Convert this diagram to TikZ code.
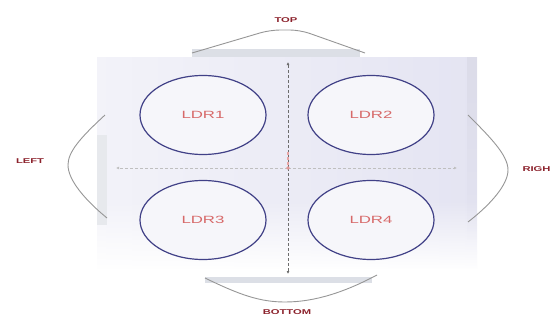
\documentclass[tikz,border=0pt]{standalone}
\usepackage{fontspec}
\usepackage{graphicx}
\setsansfont{Liberation Sans}
\usetikzlibrary{shapes.geometric,arrows.meta,fadings}
\definecolor{lbl}{RGB}{215,105,105}
\definecolor{dlbl}{RGB}{140,35,45}
\definecolor{edge}{RGB}{65,65,135}
\definecolor{bgl}{RGB}{228,228,242}
\definecolor{barg}{RGB}{220,223,230}
\definecolor{brk}{RGB}{150,150,150}
\newcommand{\widetext}[1]{\scalebox{1.6}[1]{#1}}
\tikzset{
  ldr/.style={ellipse,draw=edge,line width=1.2pt,fill=bgl!35!white,minimum width=126pt,minimum height=79pt,
    inner sep=0pt,text=lbl,font=\sffamily\fontsize{10.5}{13}\selectfont},
  dirlbl/.style={text=dlbl,font=\sffamily\bfseries\fontsize{7}{9}\selectfont},
  brack/.style={draw=brk,line width=0.9pt},
  axis/.style={densely dashed,line width=0.6pt,-{Latex[length=3pt,width=3pt]}},
}
\begin{document}
\begin{tikzpicture}[x=1pt,y=-1pt]
\useasboundingbox (0,0) rectangle (558,324);
% background panel
\shade[left color=bgl!45!white,right color=bgl] (97,57) rectangle (477,268);
\fill[white,path fading=north] (96,200) rectangle (478,270);
\fill[barg!70!white] (97,135) rectangle (107,225);
\fill[bgl!92!gray,path fading=south] (467,57) rectangle (477,240);
% bars
\fill[barg] (192,49) rectangle (360,57);
\fill[barg] (205,277) rectangle (372,283);
% brackets
\draw[brack,rounded corners=10pt] (192,53) -- (270,30) -- (300,30) -- (365,53);
\draw[brack] (205,278) .. controls (240,295) and (260,302) .. (285,302) .. controls (315,302) and (345,292) .. (377,275);
\draw[brack] (105,115) .. controls (80,138) and (68,152) .. (68,165) .. controls (68,180) and (85,200) .. (107,218);
\draw[brack] (468,115) .. controls (490,137) and (508,155) .. (508,170) .. controls (508,185) and (490,205) .. (468,222);
% ellipses
\node[ldr] (l1) at (203,115) {\widetext{LDR1}};
\node[ldr] (l2) at (371,115) {\widetext{LDR2}};
\node[ldr] (l3) at (203,220) {\widetext{LDR3}};
\node[ldr] (l4) at (371,220) {\widetext{LDR4}};
% axes
\coordinate (c) at (288,168);
\coordinate (vt) at (288,62);
\coordinate (vb) at (288,274);
\coordinate (hl) at (116,168);
\coordinate (hr) at (457,168);
\draw[axis,draw=gray!50] (c) -- (hl);
\draw[axis,draw=gray!50] (c) -- (hr);
\draw[axis,draw=gray!85!black] (c) -- (vt);
\draw[axis,draw=gray!85!black] (c) -- (vb);
\coordinate (rm) at (288,152);
\draw[lbl!60!white,line width=1.4pt,densely dashed] (rm) -- (c);
\node[fill=lbl!70!white,circle,inner sep=1.3pt] (cm) at (c) {};
% labels
\node[dirlbl] (top) at (286,20) {\widetext{TOP}};
\node[dirlbl] (bot) at (287,312) {\widetext{BOTTOM}};
\node[dirlbl] (left) at (30,161) {\widetext{LEFT}};
\node[dirlbl,anchor=west] (right) at (519,169) {\widetext{RIGH}};
\end{tikzpicture}
\end{document}
